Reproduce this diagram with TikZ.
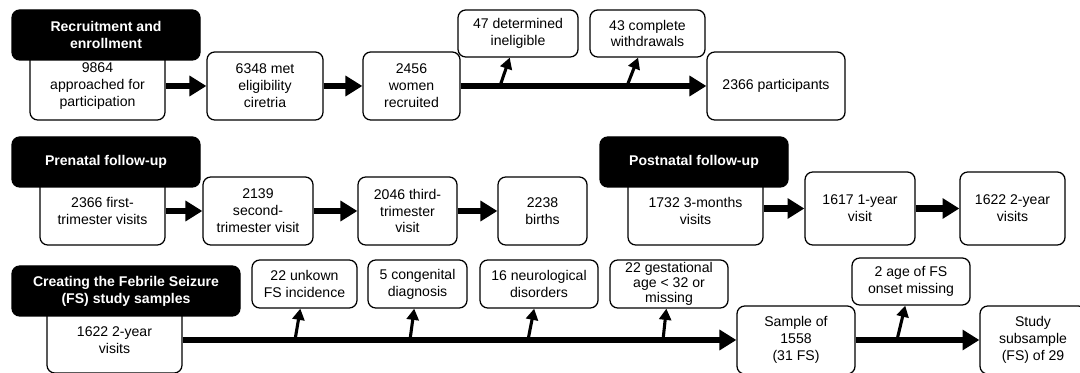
\documentclass[tikz,border=0pt]{standalone}
\usepackage{fontspec}
\setmainfont{Liberation Sans}
\usetikzlibrary{arrows.meta}
\usetikzlibrary{calc}

\tikzset{
	wh/.style 2 args={minimum width=#1*0.025cm, minimum height=#2*0.025cm},
	box/.style={draw, rounded corners=5.5pt, align=center, fill=white, inner sep=0pt, line width=0.9pt, font=\fontsize{10}{12}\selectfont},
	hdr/.style={box, fill=black, text=white, font=\fontsize{10}{12}\selectfont\bfseries},
	bigarr/.style={line width=4.3pt, -{Triangle[length=12pt,width=14pt]}},
	smallarr/.style={line width=2.2pt, -{Triangle[length=8pt,width=8.5pt]}}
}

\begin{document}
\begin{tikzpicture}[x=0.025cm, y=-0.025cm]
	\useasboundingbox (0,0) rectangle (1080,373);
	\fill[white] (0,0) rectangle (1080,373);
	% recruitment and enrollment
	\node[box, wh={135}{68}] (app) at (97.5,86) {9864\\approached for\\participation};
	\node[box, wh={116}{68}] (elig) at (265,86) {6348 met\\eligibility\\ciretria};
	\node[box, wh={97}{68}] (wom) at (411.5,86) {2456\\women\\recruited};
	\node[box, wh={120}{47}] (inel) at (518,33.5) {47 determined\\ineligible};
	\node[box, wh={115}{47}] (wd) at (647.5,33.5) {43 complete\\withdrawals};
	\node[box, wh={138}{68}] (part) at (776,86) {2366 participants};
	\node[hdr, wh={188}{50}] (rec) at (106,35) {Recruitment and\\enrollment};
	\draw[bigarr] (app) -- (elig);
	\draw[bigarr] (elig) -- (wom);
	\draw[bigarr] (wom) -- (part);
	\coordinate (c1) at (500,86);
	\coordinate (c2) at (627,86);
	\draw[smallarr] (c1) -- (inel);
	\draw[smallarr] (c2) -- (wd);
	% follow-up
	\node[box, wh={125}{68}] (tri1) at (102.5,211) {2366 first-\\trimester visits};
	\node[box, wh={110}{68}] (tri2) at (258,211) {2139\\second-\\trimester visit};
	\node[box, wh={99}{68}] (tri3) at (407.5,211) {2046 third-\\trimester\\visit};
	\node[box, wh={89}{68}] (birth) at (542.5,211) {2238\\births};
	\node[box, wh={135}{68}] (m3) at (695.5,211) {1732 3-months\\visits};
	\node[box, wh={110}{73}] (y1) at (860,208.5) {1617 1-year\\visit};
	\node[box, wh={105}{73}] (y2) at (1012.5,208.5) {1622 2-year\\visits};
	\node[hdr, wh={188}{50}] (pre) at (106,162) {Prenatal follow-up};
	\node[hdr, wh={188}{50}] (post) at (694,162) {Postnatal follow-up};
	\draw[bigarr] (tri1) -- (tri2);
	\draw[bigarr] (tri2) -- (tri3);
	\draw[bigarr] (tri3) -- (birth);
	\draw[bigarr] (m3.east |- y1.west) -- (y1.west);
	\draw[bigarr] (y1) -- (y2);
	% febrile seizure samples
	\node[box, wh={135}{66}] (v2) at (114.5,340) {1622 2-year\\visits};
	\node[box, wh={105}{48}] (unk) at (304.5,284) {22 unkown\\FS incidence};
	\node[box, wh={99}{48}] (cong) at (417.5,284) {5 congenital\\diagnosis};
	\node[box, wh={118}{48}] (neur) at (539,284) {16 neurological\\disorders};
	\node[box, wh={118}{48}, font=\fontsize{10}{10.8}\selectfont] (gest) at (669,284) {22 gestational\\age < 32 or\\missing};
	\node[box, wh={118}{68}] (samp) at (796,340) {Sample of\\1558\\(31 FS)};
	\node[box, wh={118}{47}] (ons) at (911,281.5) {2 age of FS\\onset missing};
	\node[box, wh={106}{68}] (sub) at (1033,340) {Study\\subsample\\(FS) of 29};
	\node[hdr, wh={228}{50}] (fs) at (126,291) {Creating the Febrile Seizure\\(FS) study samples};
	\draw[bigarr] (v2) -- (samp);
	\draw[bigarr] (samp) -- (sub);
	\foreach \x/\b in {295/unk, 410/cong, 528/neur, 663/gest, 897/ons}{
		\coordinate (c) at (\x,340);
		\draw[smallarr] (c) -- (\b);
	}
\end{tikzpicture}
\end{document}
